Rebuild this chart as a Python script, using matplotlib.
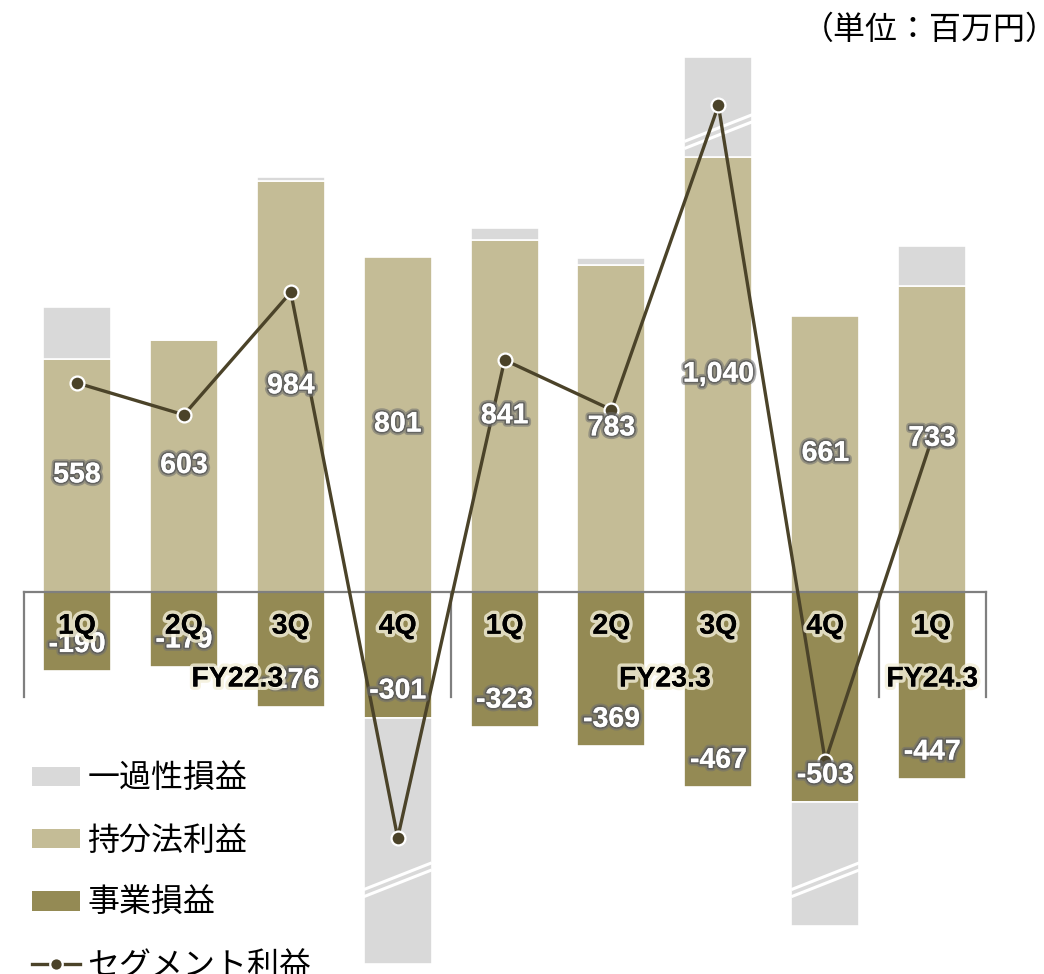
import matplotlib
matplotlib.use('Agg')
import matplotlib.pyplot as plt
import matplotlib.patheffects as pe
from matplotlib.patches import Patch
from matplotlib.lines import Line2D

plt.rcParams['font.family'] = ['Liberation Sans', 'Noto Sans CJK JP', 'DejaVu Sans']

# quarterly figures, million yen
quarters = ['1Q', '2Q', '3Q', '4Q', '1Q', '2Q', '3Q', '4Q', '1Q']
fiscal_years = ['FY22.3', 'FY23.3', 'FY24.3']
fy_spans = [(0, 3), (4, 7), (8, 8)]
equity = [558, 603, 984, 801, 841, 783, 1040, 661, 733]        # 持分法利益
business = [-190, -179, -276, -301, -323, -369, -467, -503, -447]  # 事業損益
onetime = [124, 0, 8, -588, 31, 15, 239, -297, 95]            # 一過性損益 (shown length)
segment = [500, 424, 717, -588, 555, 436, 1164, -405, 369]     # セグメント利益
breaks = {3: -680, 6: 1110, 7: -680}   # where the long one-off bars get cut marks

c_once = '#D9D9D9'
c_equity = '#C4BC96'
c_business = '#948A54'
c_line = '#4B4329'
c_axis = '#7F7F7F'

fig = plt.figure(figsize=(10.44, 9.74), dpi=100)
ax = fig.add_axes([0, 0, 1, 1])
ax.axis('off')
ax.set_xlim(-0.7203, 9.046)
ax.set_ylim(-913.9, 1416.3)

x = list(range(len(quarters)))
w = 0.636

ax.bar(x, equity, w, color=c_equity, edgecolor='white', linewidth=1.2, zorder=2)
ax.bar(x, business, w, color=c_business, edgecolor='white', linewidth=1.2, zorder=2)
once_bottom = [e if o >= 0 else b for e, b, o in zip(equity, business, onetime)]
ax.bar(x, onetime, w, bottom=once_bottom, color=c_once, edgecolor='white',
       linewidth=1.2, zorder=2)

# cut marks on the broken bars
for i, yb in breaks.items():
    for dy in (0, -17):
        ax.plot([i - w / 2, i + w / 2], [yb + dy - 32, yb + dy + 32],
                color='white', lw=2.2, solid_capstyle='butt', zorder=3)

# category frame under the zero line
ax.plot([-0.5, 8.5], [0, 0], color=c_axis, lw=1.6, zorder=4)
for sx in (-0.5, 3.5, 7.5, 8.5):
    ax.plot([sx, sx], [0, -251], color=c_axis, lw=1.6, zorder=4)

ax.plot(x, segment, color=c_line, lw=2.4, marker='o', markersize=10,
        markerfacecolor=c_line, markeredgecolor='white', markeredgewidth=1.6,
        zorder=5)

glow_dark = [pe.withStroke(linewidth=5, foreground='#6e6e6e', alpha=0.55),
             pe.withStroke(linewidth=2.5, foreground='#5a5a5a', alpha=0.8),
             pe.Normal()]
glow_light = [pe.withStroke(linewidth=5, foreground='#f3efd9', alpha=0.8),
              pe.Normal()]

for i in x:
    ax.text(i, equity[i] / 2, f'{equity[i]:,}', ha='center', va='center',
            color='white', fontsize=20.5, fontweight='bold',
            path_effects=glow_dark, zorder=6)
    ax.annotate(f'{business[i]:,}', (i, business[i]), xytext=(0, 19),
                textcoords='offset points', ha='center', va='center',
                color='white', fontsize=20.5, fontweight='bold',
                path_effects=glow_dark, zorder=6)
    ax.annotate(quarters[i], (i, 0), xytext=(0, -25), textcoords='offset points',
                ha='center', va='center', color='black', fontsize=20.5,
                fontweight='bold', path_effects=glow_light, zorder=7)

for name, (a, b) in zip(fiscal_years, fy_spans):
    ax.annotate(name, ((a + b) / 2, 0), xytext=(0, -63), textcoords='offset points',
                ha='center', va='center', color='black', fontsize=20.5,
                fontweight='bold', path_effects=glow_light, zorder=7)

jp = ['Noto Sans CJK JP', 'DejaVu Sans']
fig.text(1.013, 0.969, '（単位：百万円）', ha='right', va='center',
         fontsize=23, family=jp)

handles = [Patch(facecolor=c_once, edgecolor='none'),
           Patch(facecolor=c_equity, edgecolor='none'),
           Patch(facecolor=c_business, edgecolor='none'),
           Line2D([], [], color=c_line, lw=2.4, marker='o', markersize=9,
                  markerfacecolor=c_line, markeredgecolor='white',
                  markeredgewidth=1.6)]
labels = ['一過性損益', '持分法利益', '事業損益', 'セグメント利益']
ax.legend(handles, labels, loc='upper left', bbox_to_anchor=(0.031, 0.217),
          bbox_transform=fig.transFigure, frameon=False, borderpad=0,
          borderaxespad=0, handlelength=1.5, handleheight=0.56,
          handletextpad=0.22, labelspacing=0.95,
          prop={'family': jp, 'size': 23})

fig.savefig('out.png', dpi=100)
